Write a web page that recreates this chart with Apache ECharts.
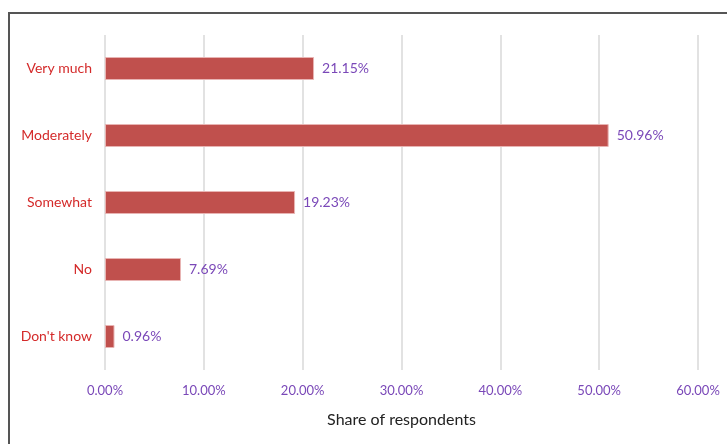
<!DOCTYPE html>
<html>
<head>
<meta charset="utf-8">
<script src="https://cdn.jsdelivr.net/npm/echarts@6/dist/echarts.min.js"></script>
<style>
  html, body { margin: 0; padding: 0; background: #fff; }
  #chart { width: 727px; height: 444px; }
</style>
</head>
<body>
<div id="chart"></div>
<script>
// answers, top to bottom
var categories = ['Very much', 'Moderately', 'Somewhat', 'No', "Don't know"];
var shares = [21.15, 50.96, 19.23, 7.69, 0.96];
var xTicks = { min: 0, max: 60, interval: 10 };

var chart = echarts.init(document.getElementById('chart'));
var option = {
    backgroundColor: '#fff',
    textStyle: { fontFamily: 'Lato, "Open Sans", sans-serif' },
    graphic: [{
        type: 'rect',
        shape: { x: 9, y: 13, width: 800, height: 500 },
        style: { fill: 'none', stroke: '#555', lineWidth: 2 }
    }],
    grid: { left: 105, right: 29, top: 35, bottom: 74 },
    xAxis: {
        type: 'value',
        min: xTicks.min,
        max: xTicks.max,
        interval: xTicks.interval,
        name: 'Share of respondents',
        nameLocation: 'middle',
        nameGap: 42,
        nameTextStyle: { color: '#222', fontSize: 16 },
        axisLine: { show: false },
        axisTick: { show: false },
        axisLabel: {
            color: '#7a48b8',
            fontSize: 13,
            margin: 14,
            formatter: function (v) { return v.toFixed(2) + '%'; }
        },
        splitLine: { lineStyle: { color: '#d9d9d9', width: 1.5 } }
    },
    yAxis: {
        type: 'category',
        inverse: true,
        data: categories,
        axisLine: { show: false },
        axisTick: { show: false },
        axisLabel: { color: '#d42a2a', fontSize: 14, margin: 13 }
    },
    series: [{
        type: 'bar',
        data: shares,
        barWidth: 23,
        itemStyle: { color: '#c0504d', borderColor: '#e8b4b3', borderWidth: 1 },
        label: {
            show: true,
            position: 'right',
            distance: 8,
            color: '#7a48b8',
            fontSize: 14,
            formatter: function (p) { return p.value.toFixed(2) + '%'; }
        }
    }]
};
chart.setOption(option);
</script>
</body>
</html>
